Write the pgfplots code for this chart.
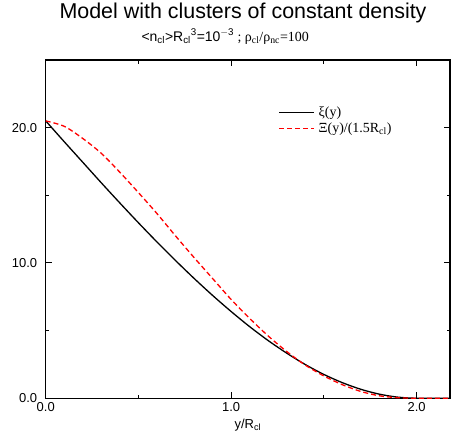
\documentclass[border=0pt]{standalone}
\usepackage{fontspec}
\setmainfont{Liberation Sans}
\newfontfamily\serif{Liberation Serif}
\usepackage{pgfplots}
\pgfplotsset{compat=1.18}
\begin{document}
\begin{tikzpicture}
\begin{axis}[
  scale only axis, width=404bp, height=338bp,
  xmin=0, xmax=2.18, ymin=0, ymax=25,
  xtick={0,1,2}, ytick={0,10,20},
  minor xtick={0.5,1.5}, minor ytick={5,15,25},
  tick align=inside,
  major tick length=6bp, minor tick length=3.5bp,
  tick style={black, line width=1bp},
  axis line style={line width=1.2bp},
  /pgf/number format/assume math mode=true,
  /pgf/number format/fixed,
  /pgf/number format/fixed zerofill,
  /pgf/number format/precision=1,
  ticklabel style={font=\fontsize{13}{13}\selectfont},
  yticklabel style={xshift=-5bp},
  xticklabel style={yshift=-1bp},
  xlabel={y/R\textsubscript{cl}},
  xlabel style={font=\fontsize{13}{13}\selectfont},
  legend style={at={(rel axis cs:0.575,0.868)}, anchor=north west, draw=none, fill=none,
    font=\serif\fontsize{14}{15}\selectfont, inner sep=0pt, row sep=0.5bp,
    nodes={inner xsep=4bp}},
  legend cell align=left,
  legend image code/.code={\draw[#1, line width=1.3bp] (0bp,0bp) -- (35bp,0bp);},
]
\addplot[black, line width=1.3bp, smooth] coordinates {
(0,20.5) (0.1,18.96) (0.2,17.44) (0.3,15.92) (0.4,14.43) (0.5,12.97) (0.6,11.55)
(0.7,10.18) (0.8,8.86) (0.9,7.60) (1.0,6.41) (1.1,5.29) (1.2,4.26) (1.3,3.33)
(1.4,2.49) (1.5,1.76) (1.6,1.15) (1.7,0.66) (1.8,0.30) (1.9,0.08) (2.0,0) (2.1,0) (2.18,0)};
\addlegendentry{ξ(y)}
\addplot[red, line width=1.3bp, dash pattern=on 5bp off 3bp, smooth] coordinates {
(0,20.5) (0.1,20.1) (0.2,19.2) (0.3,18.1) (0.4,16.7) (0.5,15.2) (0.6,13.65)
(0.7,12.0) (0.8,10.4) (0.9,8.85) (1.0,7.3) (1.1,5.9) (1.2,4.6) (1.3,3.45)
(1.4,2.45) (1.5,1.65) (1.6,1.0) (1.7,0.5) (1.8,0.18) (1.9,0.04) (2.0,0) (2.1,0) (2.18,0)};
\addlegendentry{Ξ(y)/(1.5R\textsubscript{cl})}
\coordinate (ll) at (rel axis cs:0,0);
\coordinate (ur) at (rel axis cs:1,1);
\coordinate (tc) at (rel axis cs:0.488,1);
\coordinate (sc) at (rel axis cs:0.444,1);
\end{axis}
\node[anchor=base, font=\fontsize{21.5}{21.5}\selectfont] at ([yshift=41.7bp]tc) {Model with clusters of constant density};
\node[anchor=base, font=\fontsize{14}{14}\selectfont] at ([yshift=19bp]sc) {<n\textsubscript{cl}>R\textsubscript{cl}\textsuperscript{3}=10\textsuperscript{$-$3}{\serif\ ; ρ\textsubscript{cl}/ρ\textsubscript{nc}=100}};
\pgfresetboundingbox
\path ([shift={(-45.7bp,-47bp)}]ll) rectangle ([shift={(1bp,60bp)}]ur);
\end{tikzpicture}
\end{document}
